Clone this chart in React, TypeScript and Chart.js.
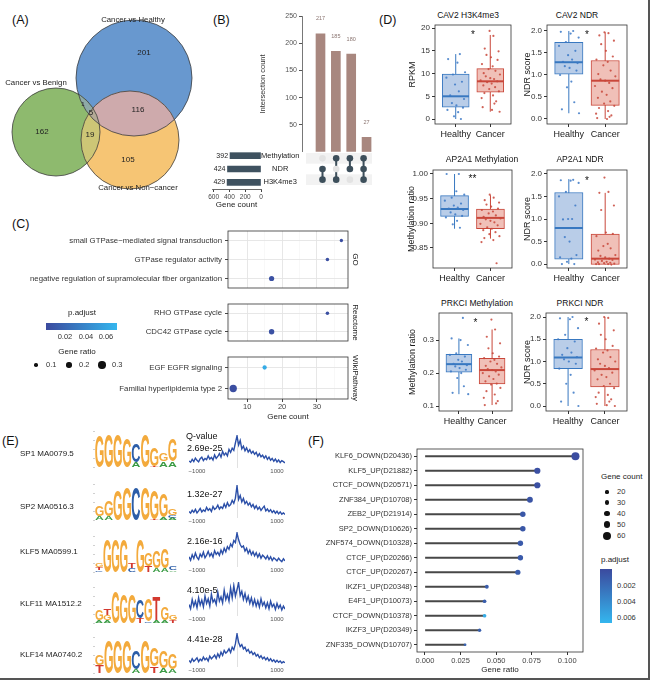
import React, { useEffect, useRef } from 'react';
import { Chart, registerables } from 'chart.js';
Chart.register(...registerables);

const FONT = "'Liberation Sans', Arial, Helvetica, sans-serif";
Chart.defaults.font.family = FONT;
Chart.defaults.color = '#333';
Chart.defaults.plugins.legend.display = false;
Chart.defaults.plugins.tooltip.enabled = false;

// ---------------- (A) Venn ----------------
const VENN_SETS = ['Cancer vs Healthy', 'Cancer vs Benign', 'Cancer vs Non\u2212cancer'];
const VENN_CX = [67, 28, 65];
const VENN_CY = [61, 34, 30];
const VENN_R = [29, 22, 24.5];
const VENN_LABEL_X = [66.5, 18, 69];
const VENN_LABEL_Y = [90, 58.5, 6];
const VENN_COUNTS = [201, 162, 105, 1, 116, 19, 5];
const VENN_COUNT_X = [72, 21, 64, 41.5, 69, 45, 45.5];
const VENN_COUNT_Y = [73.5, 34, 20, 48, 45, 32.5, 43.5];
const VENN_FILL = ['#6898cf', '#8eba6e', '#f6c574'];
const VENN_PAIRS: [number, number, string][] = [[0, 1, '#8eaaa6'], [0, 2, '#ceaaac'], [1, 2, '#cdc676']];
const VENN_TRIPLE = '#b4aa96';

// ---------------- (B) UpSet ----------------
const UPSET_SETS = ['Methylation', 'NDR', 'H3K4me3'];
const UPSET_SET_SIZES = [392, 424, 429];
const UPSET_COUNTS = [217, 185, 180, 27];
const UPSET_MEMBERS = [[0, 1, 1], [1, 0, 1], [1, 1, 0], [1, 1, 1]];
const UPSET_SIZE_TICKS = [0, 200, 400, 600];

// ---------------- (C) enrichment dot plot ----------------
const C_GO_TERMS = ['small GTPase\u2212mediated signal transduction', 'GTPase regulator activity', 'negative regulation of supramolecular fiber organization'];
const C_GO_COUNT = [37, 33, 17];
const C_GO_RATIO = [0.09, 0.1, 0.19];
const C_GO_PADJ = [0.004, 0.005, 0.006];
const C_RE_TERMS = ['RHO GTPase cycle', 'CDC42 GTPase cycle'];
const C_RE_COUNT = [33, 17];
const C_RE_RATIO = [0.1, 0.2];
const C_RE_PADJ = [0.005, 0.006];
const C_WP_TERMS = ['EGF EGFR signaling', 'Familial hyperlipidemia type 2'];
const C_WP_COUNT = [15, 6];
const C_WP_RATIO = [0.14, 0.3];
const C_WP_PADJ = [0.062, 0.004];
const C_FACETS = ['GO', 'Reactome', 'WikiPathway'];

// ---------------- (D) box plots ----------------
const BOX_TITLES = ['CAV2 H3K4me3', 'CAV2 NDR', 'AP2A1 Methylation', 'AP2A1 NDR', 'PRKCI Methylation', 'PRKCI NDR'];
const BOX_YLABELS = ['RPKM', 'NDR score', 'Methylation ratio', 'NDR score', 'Methylation ratio', 'NDR score'];
const BOX_GROUPS = ['Healthy', 'Cancer'];
// [lower whisker, q1, median, q3, upper whisker]
const BOX_HEALTHY_STATS = [[0, 2.6, 5.0, 9.9, 14.3], [0.13, 1.02, 1.29, 1.74, 2.0], [0.889, 0.914, 0.929, 0.956, 1.0], [0, 0.109, 0.8, 1.587, 1.885], [0.136, 0.203, 0.227, 0.257, 0.305], [0, 0.84, 1.09, 1.5, 2.0]];
const BOX_CANCER_STATS = [[1.6, 5.9, 8.3, 11.1, 18.5], [0, 0.31, 0.87, 1.33, 1.97], [0.869, 0.889, 0.911, 0.929, 0.957], [-0.01, -0.01, 0.12, 0.667, 1.58], [0.103, 0.167, 0.209, 0.245, 0.332], [0, 0.43, 0.83, 1.27, 2.0]];
const CAV2_H3_HEALTHY = [14.3, 13.2, 12.4, 10.3, 9.8, 9.1, 8.2, 7.6, 6.1, 5.2, 4.4, 3.5, 3.0, 2.5, 2.0, 1.5, 0.6, 0.0];
const CAV2_H3_CANCER = [19.4, 18.3, 15.5, 14.9, 14.1, 13.6, 13.0, 12.1, 11.6, 11.0, 10.6, 10.1, 9.8, 9.4, 9.0, 8.8, 8.5, 8.3, 8.1, 7.8, 7.4, 7.0, 6.6, 6.1, 5.7, 5.2, 4.6, 3.9, 3.4, 2.6, 2.0, 1.6];
const CAV2_NDR_HEALTHY = [2.0, 1.98, 1.94, 1.85, 1.75, 1.66, 1.55, 1.45, 1.35, 1.3, 1.27, 1.2, 1.16, 1.1, 1.0, 0.85, 0.72, 0.38, 0.22, 0.13];
const CAV2_NDR_CANCER = [1.97, 1.95, 1.9, 1.78, 1.7, 1.55, 1.42, 1.35, 1.3, 1.22, 1.1, 1.02, 0.97, 0.9, 0.87, 0.82, 0.75, 0.7, 0.62, 0.55, 0.48, 0.4, 0.35, 0.3, 0.25, 0.18, 0.12, 0.08, 0.05, 0.02, 0.0];
const AP2A1_ME_HEALTHY = [1.0, 1.0, 0.965, 0.958, 0.952, 0.946, 0.94, 0.936, 0.932, 0.93, 0.927, 0.922, 0.918, 0.915, 0.912, 0.905, 0.898, 0.891];
const AP2A1_ME_CANCER = [0.958, 0.952, 0.947, 0.942, 0.938, 0.934, 0.93, 0.927, 0.924, 0.92, 0.916, 0.913, 0.91, 0.908, 0.905, 0.902, 0.899, 0.896, 0.892, 0.889, 0.886, 0.882, 0.878, 0.874, 0.87, 0.866, 0.862, 0.819];
const AP2A1_NDR_HEALTHY = [1.87, 1.86, 1.85, 1.8, 1.6, 1.5, 1.3, 1.0, 1.0, 0.99, 0.8, 0.6, 0.5, 0.2, 0.15, 0.12, 0.05, 0.0, 0.0];
const AP2A1_NDR_CANCER = [1.92, 1.6, 1.58, 1.3, 1.2, 0.7, 0.67, 0.62, 0.45, 0.4, 0.35, 0.3, 0.2, 0.18, 0.15, 0.12, 0.1, 0.09, 0.07, 0.05, 0.04, 0.03, 0.02, 0.01, 0.0, 0.0, 0.0, -0.01];
const PRKCI_ME_HEALTHY = [0.367, 0.305, 0.3, 0.285, 0.26, 0.255, 0.25, 0.24, 0.235, 0.228, 0.224, 0.22, 0.215, 0.21, 0.205, 0.2, 0.185, 0.16, 0.14, 0.136];
const PRKCI_ME_CANCER = [0.362, 0.332, 0.31, 0.29, 0.275, 0.26, 0.25, 0.245, 0.24, 0.235, 0.228, 0.222, 0.217, 0.212, 0.209, 0.205, 0.2, 0.195, 0.19, 0.182, 0.175, 0.168, 0.165, 0.155, 0.145, 0.135, 0.125, 0.115, 0.108, 0.103];
const PRKCI_NDR_HEALTHY = [2.0, 1.97, 1.95, 1.75, 1.6, 1.5, 1.45, 1.3, 1.2, 1.15, 1.1, 1.05, 1.0, 0.95, 0.84, 0.7, 0.5, 0.3, 0.1, 0.0];
const PRKCI_NDR_CANCER = [2.0, 1.98, 1.85, 1.7, 1.6, 1.5, 1.35, 1.29, 1.25, 1.2, 1.1, 1.05, 1.0, 0.95, 0.9, 0.85, 0.8, 0.75, 0.7, 0.65, 0.6, 0.5, 0.45, 0.4, 0.3, 0.25, 0.2, 0.15, 0.1, 0.05, 0.02, 0.0];
const BOX_HEALTHY_POINTS = [CAV2_H3_HEALTHY, CAV2_NDR_HEALTHY, AP2A1_ME_HEALTHY, AP2A1_NDR_HEALTHY, PRKCI_ME_HEALTHY, PRKCI_NDR_HEALTHY];
const BOX_CANCER_POINTS = [CAV2_H3_CANCER, CAV2_NDR_CANCER, AP2A1_ME_CANCER, AP2A1_NDR_CANCER, PRKCI_ME_CANCER, PRKCI_NDR_CANCER];
const JITTER = [0.12, -0.22, 0.05, 0.27, -0.08, -0.27, 0.18, -0.02, 0.09, -0.16, 0.24, -0.11, 0.02, 0.21, -0.24, 0.07, -0.05, 0.15, -0.19, 0.28, -0.13, 0.0, 0.11, -0.28, 0.2, -0.09, 0.04, -0.2, 0.14, -0.03, 0.25, -0.17, 0.08, -0.25, 0.17];
const BOX_SIG = ['*', '*', '**', '*', '*', '*'];
const BOX_SIG_Y = [19.0, 1.96, 0.995, 1.9, 0.36, 1.95];
const BOX_YMIN = [-1.1, -0.114, 0.8094, -0.087, 0.085, -0.112];
const BOX_YMAX = [20.7, 2.136, 1.0081, 2.087, 0.382, 2.09];
const BOX_YSTEP = [5, 0.5, 0.05, 0.5, 0.1, 0.5];
const BOX_YDEC = [0, 1, 2, 1, 1, 1];

// ---------------- (E) motifs ----------------
const MOTIF_NAMES = ['SP1 MA0079.5', 'SP2 MA0516.3', 'KLF5 MA0599.1', 'KLF11 MA1512.2', 'KLF14 MA0740.2'];
const MOTIF_QVALUES = ['2.69e-25', '1.32e-27', '2.16e-16', '4.10e-5', '4.41e-28'];
const LOGO_SP1 = [{ G: 1.75 }, { G: 1.85 }, { G: 1.85 }, { G: 1.6 }, { C: 1.05, A: 0.25 }, { G: 1.85 }, { G: 1.0, T: 0.06 }, { G: 0.45, A: 0.3 }, { G: 1.2, A: 0.3 }];
const LOGO_SP2 = [{ G: 0.6, A: 0.2 }, { G: 0.85, A: 0.2 }, { G: 1.65 }, { G: 1.85 }, { C: 1.85 }, { G: 1.8 }, { G: 1.6, T: 0.05 }, { G: 1.3, A: 0.15 }, { G: 0.35, C: 0.15, A: 0.12 }];
const LOGO_KLF5 = [{ G: 0.2, T: 0.15, C: 0.1 }, { G: 1.85 }, { G: 1.85 }, { G: 1.85 }, { C: 0.2, T: 0.25 }, { G: 1.85 }, { G: 0.75, T: 0.35 }, { G: 0.95, A: 0.2 }, { G: 1.1, A: 0.2 }, { C: 0.2, A: 0.1 }];
const LOGO_KLF11 = [{ G: 0.6, A: 0.15 }, { T: 0.35, G: 0.3, A: 0.15 }, { G: 1.75 }, { G: 1.6 }, { G: 1.6 }, { C: 1.05, T: 0.25 }, { G: 1.2, C: 0.1 }, { T: 1.3, A: 0.15 }, { G: 0.75, A: 0.15 }, { G: 0.25, T: 0.15 }];
const LOGO_KLF14 = [{ G: 0.55, T: 0.45 }, { G: 1.8 }, { G: 1.85 }, { G: 1.85 }, { C: 1.0, A: 0.2 }, { G: 1.85 }, { G: 1.05, T: 0.35 }, { G: 0.95, A: 0.25 }, { G: 0.85, A: 0.2 }];
const LOGOS = [LOGO_SP1, LOGO_SP2, LOGO_KLF5, LOGO_KLF11, LOGO_KLF14];
const LETTER_COLORS: any = { A: '#3a9b44', C: '#2d5ea8', G: '#f3aa3c', T: '#d3392f' };
const PROFILE_X = [-1200, -1160, -1120, -1080, -1040, -1000, -960, -920, -880, -840, -800, -760, -720, -680, -640, -600, -560, -520, -480, -440, -400, -360, -320, -280, -240, -200, -160, -120, -80, -40, 0, 40, 80, 120, 160, 200, 240, 280, 320, 360, 400, 440, 480, 520, 560, 600, 640, 680, 720, 760, 800, 840, 880, 920, 960, 1000, 1040, 1080, 1120, 1160, 1200];
const PROFILE_SP1 = [0.22, 0.18, 0.27, 0.2, 0.31, 0.24, 0.19, 0.29, 0.34, 0.23, 0.3, 0.26, 0.38, 0.28, 0.33, 0.25, 0.41, 0.3, 0.36, 0.45, 0.34, 0.52, 0.4, 0.47, 0.38, 0.58, 0.49, 0.62, 0.55, 0.78, 1.0, 0.72, 0.86, 0.6, 0.68, 0.54, 0.63, 0.5, 0.57, 0.46, 0.52, 0.43, 0.49, 0.37, 0.45, 0.35, 0.4, 0.31, 0.38, 0.27, 0.34, 0.24, 0.3, 0.21, 0.28, 0.19, 0.25, 0.17, 0.23, 0.2, 0.16];
const PROFILE_SP2 = [0.2, 0.15, 0.24, 0.18, 0.27, 0.16, 0.22, 0.3, 0.19, 0.25, 0.21, 0.33, 0.24, 0.29, 0.2, 0.36, 0.27, 0.31, 0.4, 0.28, 0.35, 0.3, 0.44, 0.33, 0.48, 0.37, 0.42, 0.55, 0.46, 0.62, 1.0, 0.58, 0.7, 0.5, 0.61, 0.45, 0.52, 0.4, 0.47, 0.35, 0.42, 0.3, 0.38, 0.27, 0.34, 0.24, 0.31, 0.37, 0.22, 0.28, 0.2, 0.26, 0.17, 0.23, 0.15, 0.21, 0.13, 0.19, 0.12, 0.16, 0.11];
const PROFILE_KLF5 = [0.3, 0.2, 0.36, 0.25, 0.41, 0.28, 0.22, 0.38, 0.3, 0.44, 0.27, 0.35, 0.46, 0.32, 0.4, 0.29, 0.48, 0.37, 0.43, 0.34, 0.5, 0.39, 0.55, 0.45, 0.6, 0.52, 0.68, 0.6, 0.78, 0.72, 1.0, 0.8, 0.66, 0.58, 0.62, 0.47, 0.55, 0.4, 0.5, 0.36, 0.45, 0.33, 0.42, 0.29, 0.39, 0.26, 0.35, 0.3, 0.24, 0.33, 0.22, 0.3, 0.19, 0.27, 0.23, 0.18, 0.26, 0.2, 0.16, 0.24, 0.18];
const PROFILE_KLF11 = [0.35, 0.22, 0.5, 0.3, 0.45, 0.25, 0.55, 0.33, 0.48, 0.28, 0.6, 0.38, 0.52, 0.3, 0.66, 0.42, 0.5, 0.35, 0.72, 0.45, 0.58, 0.4, 0.78, 0.5, 0.65, 0.45, 0.85, 0.55, 0.92, 0.6, 0.8, 1.0, 0.62, 0.75, 0.5, 0.68, 0.45, 0.6, 0.38, 0.55, 0.33, 0.5, 0.3, 0.46, 0.27, 0.52, 0.32, 0.42, 0.25, 0.4, 0.22, 0.45, 0.28, 0.36, 0.2, 0.38, 0.24, 0.33, 0.18, 0.3, 0.21];
const PROFILE_KLF14 = [0.2, 0.14, 0.25, 0.17, 0.22, 0.28, 0.16, 0.24, 0.19, 0.3, 0.22, 0.27, 0.18, 0.33, 0.25, 0.3, 0.36, 0.26, 0.4, 0.3, 0.45, 0.35, 0.5, 0.42, 0.47, 0.55, 0.44, 0.6, 0.52, 0.7, 1.0, 0.75, 0.62, 0.68, 0.55, 0.6, 0.48, 0.53, 0.42, 0.47, 0.38, 0.43, 0.33, 0.38, 0.28, 0.34, 0.25, 0.3, 0.22, 0.28, 0.19, 0.25, 0.17, 0.22, 0.15, 0.2, 0.14, 0.18, 0.12, 0.16, 0.13];
const PROFILES = [PROFILE_SP1, PROFILE_SP2, PROFILE_KLF5, PROFILE_KLF11, PROFILE_KLF14];

// ---------------- (F) lollipop ----------------
const F_TERMS = ['KLF6_DOWN(D20436)', 'KLF5_UP(D21882)', 'CTCF_DOWN(D20571)', 'ZNF384_UP(D10708)', 'ZEB2_UP(D21914)', 'SP2_DOWN(D10626)', 'ZNF574_DOWN(D10328)', 'CTCF_UP(D20266)', 'CTCF_UP(D20267)', 'IKZF1_UP(D20348)', 'E4F1_UP(D10073)', 'CTCF_DOWN(D10378)', 'IKZF3_UP(D20349)', 'ZNF335_DOWN(D10707)'];
const F_RATIO = [0.1058, 0.079, 0.079, 0.0738, 0.0688, 0.0688, 0.0671, 0.0671, 0.0653, 0.0435, 0.0419, 0.0419, 0.0384, 0.0282];
const F_COUNT = [60, 45, 45, 42, 39, 39, 38, 38, 37, 25, 24, 24, 22, 16];
const F_PADJ = [0.0002, 0.0004, 0.0004, 0.0006, 0.0008, 0.0008, 0.001, 0.001, 0.0012, 0.0012, 0.0013, 0.0062, 0.0014, 0.0016];
const F_LEGEND_COUNTS = [20, 30, 40, 50, 60];

// ---------------- helpers ----------------
const C_LOW = [59, 74, 158];
const C_HIGH = [52, 182, 238];
function grad(p: number, min: number, max: number) {
  const t = Math.max(0, Math.min(1, (p - min) / (max - min)));
  const c = C_LOW.map((v, i) => Math.round(v + (C_HIGH[i] - v) * t));
  return `rgb(${c[0]},${c[1]},${c[2]})`;
}
const fixW = (w: number) => (s: any) => { s.width = w; s.paddingTop = 0; s.paddingBottom = 0; s.paddingLeft = 0; s.paddingRight = 0; };
const fixH = (h: number) => (s: any) => { s.height = h; s.paddingLeft = 0; s.paddingRight = 0; s.paddingTop = 0; s.paddingBottom = 0; };

const framePlugin = {
  id: 'frame',
  afterDatasetsDraw(chart: any, _a: any, opts: any) {
    if (!opts || !opts.color) return;
    const { ctx, chartArea: a } = chart;
    ctx.save();
    ctx.strokeStyle = opts.color;
    ctx.lineWidth = opts.width || 1;
    ctx.strokeRect(a.left, a.top, a.right - a.left, a.bottom - a.top);
    ctx.restore();
  },
};
Chart.register(framePlugin);

type BoxSpec = { l: number; t: number; r: number; b: number; pl: number; pt: number; pr: number; pb: number };

function ChartBox({ box, build }: { box: BoxSpec; build: (b: BoxSpec) => any }) {
  const ref = useRef<HTMLCanvasElement | null>(null);
  const left = box.l - box.pl;
  const top = box.t - box.pt;
  const w = box.r + box.pr - left;
  const h = box.b + box.pb - top;
  useEffect(() => {
    const cfg = build(box);
    cfg.options = { ...(cfg.options || {}), responsive: false, maintainAspectRatio: false, animation: false, events: [] };
    const c = new Chart(ref.current as HTMLCanvasElement, cfg);
    return () => c.destroy();
  }, []);
  return <canvas ref={ref} width={w} height={h} style={{ position: 'absolute', left, top, width: w, height: h }} />;
}

function Txt({ x, y, s, size = 9, align = 'center', color = '#222' }: any) {
  const tx = align === 'center' ? '-50%' : align === 'right' ? '-100%' : '0';
  return (
    <div style={{ position: 'absolute', left: x, top: y, transform: `translate(${tx},-50%)`, fontSize: size, color, whiteSpace: 'nowrap', lineHeight: 1 }}>{s}</div>
  );
}

// ---------------- (A) ----------------
const vennPlugin = {
  id: 'vennRegions',
  beforeDatasetsDraw(chart: any) {
    const { ctx, scales: { x, y } } = chart;
    const circ = VENN_CX.map((cx, i) => ({ px: x.getPixelForValue(cx), py: y.getPixelForValue(VENN_CY[i]), pr: x.getPixelForValue(VENN_R[i]) - x.getPixelForValue(0) }));
    const path = (c: any) => { ctx.beginPath(); ctx.arc(c.px, c.py, c.pr, 0, Math.PI * 2); };
    ctx.save();
    circ.forEach((c, i) => { path(c); ctx.fillStyle = VENN_FILL[i]; ctx.fill(); });
    VENN_PAIRS.forEach(([a, b, col]) => { ctx.save(); path(circ[a]); ctx.clip(); path(circ[b]); ctx.fillStyle = col; ctx.fill(); ctx.restore(); });
    ctx.save(); path(circ[0]); ctx.clip(); path(circ[1]); ctx.clip(); path(circ[2]); ctx.fillStyle = VENN_TRIPLE; ctx.fill(); ctx.restore();
    ctx.restore();
  },
  afterDatasetsDraw(chart: any) {
    const { ctx, scales: { x, y } } = chart;
    ctx.save();
    ctx.textAlign = 'center'; ctx.textBaseline = 'middle'; ctx.fillStyle = '#222';
    ctx.font = `7.8px ${FONT}`;
    VENN_SETS.forEach((s, i) => ctx.fillText(s, x.getPixelForValue(VENN_LABEL_X[i]), y.getPixelForValue(VENN_LABEL_Y[i])));
    VENN_COUNTS.forEach((n, i) => {
      ctx.font = `${n < 2 ? 6 : 8}px ${FONT}`;
      ctx.fillText(String(n), x.getPixelForValue(VENN_COUNT_X[i]), y.getPixelForValue(VENN_COUNT_Y[i]));
    });
    ctx.restore();
  },
};
const vennConfig = (_b: BoxSpec) => ({
  type: 'scatter',
  data: { datasets: [{ data: VENN_CX.map((x, i) => ({ x, y: VENN_CY[i] })), pointRadius: (c: any) => { const s = c.chart.scales.x; return s.getPixelForValue(VENN_R[c.dataIndex]) - s.getPixelForValue(0); }, pointBackgroundColor: 'rgba(0,0,0,0)', pointBorderColor: '#3c3c3c', pointBorderWidth: 0.8 }] },
  options: { scales: { x: { type: 'linear', display: false, min: 0, max: 107.5 }, y: { type: 'linear', display: false, min: 0, max: 100 } } },
  plugins: [vennPlugin],
});

// ---------------- (B) ----------------
const UPSET_XMIN = -0.205, UPSET_XMAX = 4.615;
const upsetBarsConfig = (b: BoxSpec) => ({
  type: 'bar',
  data: { datasets: [{ data: UPSET_COUNTS.map((v, i) => ({ x: i + 1, y: v })), backgroundColor: '#a8877f', barThickness: 9 }] },
  options: {
    layout: { padding: { left: 0, right: b.pr, top: b.pt, bottom: 0 } },
    scales: {
      x: { type: 'linear', display: false, min: UPSET_XMIN, max: UPSET_XMAX, offset: false },
      y: { type: 'linear', min: 0, max: 250, ticks: { stepSize: 50, font: { size: 7 }, color: '#555', padding: 2, callback: (v: number) => (v === 0 ? '' : String(v)) }, grid: { drawOnChartArea: false, tickLength: 3, tickColor: '#555' }, border: { display: true, color: '#555', width: 0.8 }, title: { display: true, text: 'Intersection count', font: { size: 7.5 }, color: '#333', padding: { top: 2, bottom: 2 } }, afterFit: fixW(b.pl) },
    },
  },
  plugins: [{
    id: 'barLabels',
    afterDatasetsDraw(chart: any) {
      const { ctx, scales: { x, y } } = chart;
      ctx.save(); ctx.font = `5.5px ${FONT}`; ctx.fillStyle = '#8a7470'; ctx.textAlign = 'center'; ctx.textBaseline = 'middle';
      UPSET_COUNTS.forEach((v, i) => ctx.fillText(String(v), x.getPixelForValue(i + 1), y.getPixelForValue(v) - 15));
      ctx.restore();
    },
  }],
});
const upsetMatrixConfig = (_b: BoxSpec) => {
  const lines = UPSET_MEMBERS.map((m, c) => ({ type: 'line', data: UPSET_SETS.filter((_s, r) => m[r]).map((s) => ({ x: c + 1, y: s })), borderColor: '#3d4f5b', borderWidth: 2, pointRadius: 0, order: 2 }));
  const cells: any[] = [];
  const cols: string[] = [];
  UPSET_MEMBERS.forEach((m, c) => UPSET_SETS.forEach((s, r) => { cells.push({ x: c + 1, y: s }); cols.push(m[r] ? '#3d4f5b' : '#e3e3e3'); }));
  return {
    type: 'scatter',
    data: { datasets: [...lines, { type: 'scatter', data: cells, pointRadius: 3.3, pointBackgroundColor: cols, pointBorderWidth: 0, order: 1 }] },
    options: { scales: { x: { type: 'linear', display: false, min: UPSET_XMIN, max: UPSET_XMAX }, y: { type: 'category', labels: UPSET_SETS, offset: true, display: false } } },
    plugins: [{
      id: 'stripes',
      beforeDatasetsDraw(chart: any) {
        const { ctx, chartArea: a, scales: { y } } = chart;
        const band = (a.bottom - a.top) / UPSET_SETS.length;
        ctx.save(); ctx.fillStyle = '#f2f2f2';
        UPSET_SETS.forEach((s, r) => { if (r % 2 === 0) { const py = y.getPixelForValue(r); ctx.fillRect(a.left, py - band / 2, a.right - a.left, band); } });
        ctx.restore();
      },
    }],
  };
};
const upsetSizesConfig = (b: BoxSpec) => ({
  type: 'bar',
  data: { labels: UPSET_SETS, datasets: [{ data: UPSET_SET_SIZES, backgroundColor: '#3f5260', barThickness: 6 }] },
  options: {
    indexAxis: 'y',
    layout: { padding: { left: b.pl, right: 0, top: b.pt, bottom: 0 } },
    scales: {
      x: { type: 'linear', min: 0, max: 620, reverse: true, offset: false, afterBuildTicks: (s: any) => { s.ticks = UPSET_SIZE_TICKS.map((v) => ({ value: v })); }, ticks: { font: { size: 6.5 }, color: '#444', padding: 1, autoSkip: false, maxRotation: 0, minRotation: 0, callback: (v: number) => String(v) }, grid: { drawOnChartArea: false, tickLength: 3, tickColor: '#444', offset: false }, border: { display: true, color: '#444', width: 0.8 }, title: { display: true, text: 'Gene count', font: { size: 8 }, color: '#222', padding: { top: 1, bottom: 2 } }, afterFit: fixH(b.pb) },
      y: { type: 'category', position: 'right', offset: true, ticks: { font: { size: 7.5 }, color: '#222', crossAlign: 'center', padding: 0, autoSkip: false }, grid: { display: false, drawTicks: false, tickLength: 0 }, border: { display: false }, afterFit: fixW(b.pr) },
    },
  },
  plugins: [{
    id: 'sizeLabels',
    afterDatasetsDraw(chart: any) {
      const { ctx, scales: { x, y } } = chart;
      ctx.save(); ctx.font = `7px ${FONT}`; ctx.fillStyle = '#222'; ctx.textAlign = 'right'; ctx.textBaseline = 'middle';
      UPSET_SET_SIZES.forEach((v, i) => ctx.fillText(String(v), x.getPixelForValue(v) - 2, y.getPixelForValue(i)));
      ctx.restore();
    },
  }],
});

// ---------------- (C) ----------------
const C_PMIN = 0.0015, C_PMAX = 0.069;
const dotFacetConfig = (terms: string[], counts: number[], ratios: number[], padj: number[], facet: string, showX: boolean) => (b: BoxSpec) => ({
  type: 'scatter',
  data: { datasets: [{ xAxisID: 'x', yAxisID: 'y', data: terms.map((t, i) => ({ x: counts[i], y: t })), pointRadius: ratios.map((r) => 0.8 + 9.5 * r), pointBackgroundColor: padj.map((p) => grad(p, C_PMIN, C_PMAX)), pointBorderWidth: 0 }] },
  options: {
    layout: { padding: { left: 0, right: 0, top: b.pt, bottom: 0 } },
    scales: {
      x: {
        type: 'linear', min: 4.5, max: 38.9, offset: false,
        ticks: { display: showX, stepSize: 5, includeBounds: false, font: { size: 7.5 }, color: '#444', padding: 0, autoSkip: false, maxRotation: 0, callback: (v: number) => (v % 10 === 0 ? String(v) : '') },
        grid: { color: (c: any) => (c.tick && c.tick.value % 10 === 0 ? '#e4e4e4' : '#f1f1f1'), lineWidth: (c: any) => (c.tick && c.tick.value % 10 === 0 ? 0.9 : 0.5), drawTicks: showX, tickLength: 3, tickColor: (c: any) => (c.tick && c.tick.value % 10 === 0 ? '#333' : 'rgba(0,0,0,0)'), offset: false },
        border: { display: false },
        title: { display: showX, text: 'Gene count', font: { size: 8 }, color: '#222', padding: { top: 1, bottom: 2 } },
        afterFit: fixH(b.pb),
      },
      y: { type: 'category', labels: terms, offset: true, ticks: { font: { size: 7.8 }, color: '#333', padding: 3, autoSkip: false }, grid: { color: '#e4e4e4', lineWidth: 0.9, tickLength: 3, tickColor: '#333', offset: false }, border: { display: false }, afterFit: fixW(b.pl) },
      strip: { type: 'linear', axis: 'y', position: 'right', display: true, ticks: { display: false }, grid: { display: false }, border: { display: false }, title: { display: true, text: facet, font: { size: 8 }, color: '#222', padding: { top: 2, bottom: 2 } }, afterFit: fixW(b.pr) },
    },
    plugins: { frame: { color: '#333', width: 0.8 } },
  },
});

// ---------------- (D) ----------------
const BOX_FILL = ['#b9cde8', '#f0c0b8'];
const BOX_STROKE = ['#3878c0', '#c9473a'];
const BOX_POINT = ['rgba(59,120,198,0.85)', 'rgba(200,70,58,0.85)'];
const boxConfig = (i: number) => (b: BoxSpec) => {
  const ppu = (b.r - b.l) / 2.2;
  const bw = 0.77 * ppu;
  const stats = [BOX_HEALTHY_STATS[i], BOX_CANCER_STATS[i]];
  const pts = [BOX_HEALTHY_POINTS[i], BOX_CANCER_POINTS[i]];
  const datasets: any[] = [];
  stats.forEach((s, g) => datasets.push({ type: 'line', data: [{ x: g + 1, y: s[0] }, { x: g + 1, y: s[4] }], borderColor: BOX_STROKE[g], borderWidth: 1, pointRadius: 0, order: 4 }));
  datasets.push({ type: 'bar', data: stats.map((s, g) => ({ x: g + 1, y: [s[1], s[3]] })), backgroundColor: BOX_FILL, borderColor: BOX_STROKE, borderWidth: 1, borderSkipped: false, barThickness: bw, order: 3 });
  stats.forEach((s, g) => datasets.push({ type: 'line', data: [{ x: g + 1 - 0.385, y: s[2] }, { x: g + 1 + 0.385, y: s[2] }], borderColor: BOX_STROKE[g], borderWidth: 2, pointRadius: 0, order: 2 }));
  pts.forEach((arr, g) => datasets.push({ type: 'scatter', data: arr.map((v, k) => ({ x: g + 1 + JITTER[(k + g * 7) % JITTER.length], y: v })), pointRadius: 1.1, pointBackgroundColor: BOX_POINT[g], pointBorderWidth: 0, order: 1 }));
  return {
    type: 'bar',
    data: { datasets },
    options: {
      layout: { padding: { left: 0, right: b.pr, top: b.pt, bottom: 0 } },
      scales: {
        x: { type: 'linear', min: 0.4, max: 2.6, offset: false, afterBuildTicks: (s: any) => { s.ticks = [{ value: 1 }, { value: 2 }]; }, ticks: { font: { size: 9 }, color: '#1a1a1a', padding: 2, autoSkip: false, maxRotation: 0, callback: (v: number) => BOX_GROUPS[Math.round(v) - 1] }, grid: { drawOnChartArea: false, tickLength: 3, tickColor: '#333', offset: false }, border: { display: false }, afterFit: fixH(b.pb) },
        y: { type: 'linear', min: BOX_YMIN[i], max: BOX_YMAX[i], ticks: { stepSize: BOX_YSTEP[i], includeBounds: false, font: { size: 8 }, color: '#333', padding: 2, callback: (v: number) => Number(v).toFixed(BOX_YDEC[i]) }, grid: { drawOnChartArea: false, tickLength: 3, tickColor: '#333' }, border: { display: false }, title: { display: true, text: BOX_YLABELS[i], font: { size: 9 }, color: '#1a1a1a', padding: { top: 2, bottom: 2 } }, afterFit: fixW(b.pl) },
      },
      plugins: { frame: { color: '#333', width: 0.8 } },
    },
    plugins: [{
      id: 'sig',
      afterDatasetsDraw(chart: any) {
        const { ctx, scales: { x, y } } = chart;
        ctx.save(); ctx.font = `10px ${FONT}`; ctx.fillStyle = '#111'; ctx.textAlign = 'center'; ctx.textBaseline = 'alphabetic';
        ctx.fillText(BOX_SIG[i], x.getPixelForValue(1.5), y.getPixelForValue(BOX_SIG_Y[i]) + 5.5);
        ctx.restore();
      },
    }],
  };
};

// ---------------- (E) ----------------
function makeLogoPlugin(positions: any[]) {
  return {
    id: 'logo',
    afterDatasetsDraw(chart: any) {
      const { ctx, scales: { x, y } } = chart;
      ctx.save();
      ctx.font = `bold 100px ${FONT}`;
      ctx.textAlign = 'left'; ctx.textBaseline = 'alphabetic';
      positions.forEach((col: any, i: number) => {
        const letters = Object.keys(col).sort((a, b) => col[a] - col[b]);
        let base = 0;
        letters.forEach((L) => {
          const h = col[L];
          const x0 = x.getPixelForValue(i + 1 - 0.46), x1 = x.getPixelForValue(i + 1 + 0.46);
          const yb = y.getPixelForValue(base), yt = y.getPixelForValue(base + h);
          const m = ctx.measureText(L);
          const gw = m.actualBoundingBoxLeft + m.actualBoundingBoxRight;
          const gh = m.actualBoundingBoxAscent + m.actualBoundingBoxDescent;
          ctx.save();
          ctx.translate(x0, yt);
          ctx.scale((x1 - x0) / gw, (yb - yt) / gh);
          ctx.fillStyle = LETTER_COLORS[L];
          ctx.fillText(L, m.actualBoundingBoxLeft, m.actualBoundingBoxAscent);
          ctx.restore();
          base += h;
        });
      });
      ctx.restore();
    },
  };
}
const logoConfig = (i: number) => (b: BoxSpec) => ({
  type: 'scatter',
  data: { datasets: [] },
  options: {
    layout: { padding: { left: 0, right: b.pr, top: b.pt, bottom: b.pb } },
    scales: {
      x: { type: 'linear', display: false, min: 0.5, max: LOGOS[i].length + 0.5 },
      y: { type: 'linear', min: 0, max: 2, ticks: { display: false, stepSize: 0.5 }, grid: { drawOnChartArea: false, tickLength: 2, tickColor: '#c4c4c4', lineWidth: 0.8 }, border: { display: false }, afterFit: fixW(b.pl) },
    },
  },
  plugins: [makeLogoPlugin(LOGOS[i])],
});
const profileConfig = (i: number) => (b: BoxSpec) => ({
  type: 'line',
  data: { datasets: [{ data: PROFILE_X.map((x, k) => ({ x, y: PROFILES[i][k] })), borderColor: '#2b4fa8', borderWidth: 1.4, pointRadius: 0, tension: 0 }] },
  options: {
    layout: { padding: { left: b.pl, right: b.pr, top: b.pt, bottom: 0 } },
    scales: {
      x: { type: 'linear', min: -1200, max: 1200, offset: false, afterBuildTicks: (s: any) => { s.ticks = [{ value: -1000 }, { value: 0 }, { value: 1000 }]; }, ticks: { font: { size: 6 }, color: '#555', padding: 0, autoSkip: false, maxRotation: 0, callback: (v: number) => (v === 0 ? '' : v < 0 ? '\u2212' + Math.abs(v) : String(v)) }, grid: { drawTicks: false, color: (c: any) => (c.tick && c.tick.value === 0 ? '#d9d9d9' : 'rgba(0,0,0,0)'), lineWidth: 0.8 }, border: { display: false }, afterFit: fixH(b.pb) },
      y: { type: 'linear', display: false, min: 0, max: 1.03 },
    },
  },
});

// ---------------- (F) ----------------
const F_PMIN = 0, F_PMAX = 0.0068;
const lollipopConfig = (b: BoxSpec) => ({
  type: 'bar',
  data: {
    labels: F_TERMS,
    datasets: [
      { type: 'bar', data: F_RATIO, backgroundColor: '#474747', barThickness: 1.3, order: 2 },
      { type: 'scatter', data: F_RATIO.map((v, i) => ({ x: v, y: F_TERMS[i] })), pointRadius: F_COUNT.map((c) => 0.4 + 0.06 * c), pointBackgroundColor: F_PADJ.map((p) => grad(p, F_PMIN, F_PMAX)), pointBorderWidth: 0, order: 1 },
    ],
  },
  options: {
    indexAxis: 'y',
    layout: { padding: { left: 0, right: b.pr, top: b.pt, bottom: 0 } },
    scales: {
      x: { type: 'linear', min: -0.0056, max: 0.1111, offset: false, ticks: { stepSize: 0.025, includeBounds: false, font: { size: 7.5 }, color: '#444', padding: 1, autoSkip: false, maxRotation: 0, callback: (v: number) => Number(v).toFixed(3) }, grid: { drawOnChartArea: false, tickLength: 3, tickColor: '#333', offset: false }, border: { display: false }, title: { display: true, text: 'Gene ratio', font: { size: 8 }, color: '#222', padding: { top: 1, bottom: 2 } }, afterFit: fixH(b.pb) },
      y: { type: 'category', labels: F_TERMS, offset: true, ticks: { font: { size: 7.5 }, color: '#333', padding: 2, autoSkip: false }, grid: { drawOnChartArea: false, tickLength: 3, tickColor: '#333', offset: false }, border: { display: false }, afterFit: fixW(b.pl) },
    },
    plugins: { frame: { color: '#333', width: 0.8 } },
  },
});

// ---------------- layout boxes ----------------
const BOX_A: BoxSpec = { l: 0, t: 0, r: 215, b: 200, pl: 0, pt: 0, pr: 0, pb: 0 };
const BOX_B1: BoxSpec = { l: 302, t: 16, r: 376, b: 152, pl: 46, pt: 16, pr: 4, pb: 0 };
const BOX_B2: BoxSpec = { l: 302, t: 149, r: 376, b: 189, pl: 0, pt: 0, pr: 0, pb: 0 };
const BOX_B3: BoxSpec = { l: 212, t: 149, r: 261, b: 189, pl: 11, pt: 0, pr: 41, pb: 23 };
const BOX_C = [
  { l: 228, t: 227, r: 348, b: 292, pl: 228, pt: 0, pr: 14, pb: 0 },
  { l: 228, t: 300, r: 348, b: 345, pl: 228, pt: 0, pr: 14, pb: 0 },
  { l: 228, t: 353, r: 348, b: 399, pl: 228, pt: 0, pr: 14, pb: 25 },
];
const BOX_D: BoxSpec[] = [
  { l: 435, t: 25, r: 512, b: 124, pl: 30, pt: 4, pr: 3, pb: 16 },
  { l: 547, t: 25, r: 628, b: 124, pl: 27, pt: 4, pr: 3, pb: 16 },
  { l: 433, t: 170, r: 513, b: 268, pl: 29, pt: 4, pr: 3, pb: 16 },
  { l: 547, t: 170, r: 628, b: 268, pl: 27, pt: 4, pr: 3, pb: 16 },
  { l: 439, t: 313, r: 513, b: 411, pl: 34, pt: 4, pr: 3, pb: 16 },
  { l: 546, t: 313, r: 628, b: 411, pl: 26, pt: 4, pr: 3, pb: 16 },
];
const D_TITLE_POS = [[468, 15], [577, 15], [482, 159], [580, 159], [477, 303], [580, 303]];
const LOGO_BOTTOM = [467, 520, 572, 623, 673];
const PROF_TOP = [435, 485, 532, 582, 633];
const PROF_BOTTOM = [468, 518, 567, 616, 667];
const MOTIF_LABEL_Y = [454, 507, 552, 604, 655];
const QVAL_Y = [448, 494, 541, 590, 639];

export default function App() {
  const cFacets = [
    dotFacetConfig(C_GO_TERMS, C_GO_COUNT, C_GO_RATIO, C_GO_PADJ, C_FACETS[0], false),
    dotFacetConfig(C_RE_TERMS, C_RE_COUNT, C_RE_RATIO, C_RE_PADJ, C_FACETS[1], false),
    dotFacetConfig(C_WP_TERMS, C_WP_COUNT, C_WP_RATIO, C_WP_PADJ, C_FACETS[2], true),
  ];
  return (
    <div style={{ position: 'absolute', left: 0, top: 0, width: 650, height: 680, background: '#fff', fontFamily: FONT, color: '#222', overflow: 'hidden' }}>
      {/* panel letters */}
      <Txt x={12} y={20} s="(A)" size={12.5} align="left" color="#111" />
      <Txt x={213} y={20} s="(B)" size={12.5} align="left" color="#111" />
      <Txt x={379} y={20} s="(D)" size={12.5} align="left" color="#111" />
      <Txt x={12} y={224} s="(C)" size={12.5} align="left" color="#111" />
      <Txt x={2} y={441} s="(E)" size={12.5} align="left" color="#111" />
      <Txt x={308} y={441} s="(F)" size={12.5} align="left" color="#111" />

      {/* A */}
      <ChartBox box={BOX_A} build={vennConfig} />

      {/* B */}
      <ChartBox box={BOX_B1} build={upsetBarsConfig} />
      <ChartBox box={BOX_B2} build={upsetMatrixConfig} />
      <ChartBox box={BOX_B3} build={upsetSizesConfig} />

      {/* C */}
      {BOX_C.map((b, i) => <ChartBox key={'c' + i} box={b} build={cFacets[i]} />)}
      <Txt x={82} y={313} s="p.adjust" size={8} />
      <div style={{ position: 'absolute', left: 46, top: 323, width: 71, height: 7, background: `linear-gradient(to right, rgb(${C_LOW.join(',')}), rgb(${C_HIGH.join(',')}))` }} />
      <Txt x={65} y={337} s="0.02" size={7.5} color="#333" />
      <Txt x={86} y={337} s="0.04" size={7.5} color="#333" />
      <Txt x={106} y={337} s="0.06" size={7.5} color="#333" />
      <Txt x={77} y={352} s="Gene ratio" size={8} />
      {[0.1, 0.2, 0.3].map((r, k) => {
        const rad = 0.8 + 9.5 * r;
        const cx = [36, 69, 102][k];
        return <div key={'gr' + k} style={{ position: 'absolute', left: cx - rad, top: 365 - rad, width: rad * 2, height: rad * 2, borderRadius: '50%', background: '#111' }} />;
      })}
      <Txt x={46} y={365} s="0.1" size={7.5} align="left" color="#333" />
      <Txt x={79} y={365} s="0.2" size={7.5} align="left" color="#333" />
      <Txt x={112} y={365} s="0.3" size={7.5} align="left" color="#333" />

      {/* D */}
      {BOX_D.map((b, i) => <ChartBox key={'d' + i} box={b} build={boxConfig(i)} />)}
      {BOX_TITLES.map((t, i) => <Txt key={'dt' + i} x={D_TITLE_POS[i][0]} y={D_TITLE_POS[i][1]} s={t} size={8.5} color="#111" />)}

      {/* E */}
      {MOTIF_NAMES.map((n, i) => <Txt key={'mn' + i} x={20} y={MOTIF_LABEL_Y[i]} s={n} size={8} align="left" color="#222" />)}
      {LOGOS.map((_l, i) => <ChartBox key={'lg' + i} box={{ l: 95, t: LOGO_BOTTOM[i] - 36, r: 177, b: LOGO_BOTTOM[i], pl: 6, pt: 1, pr: 1, pb: 2 }} build={logoConfig(i)} />)}
      {PROFILES.map((_p, i) => <ChartBox key={'pf' + i} box={{ l: 189, t: PROF_TOP[i], r: 285, b: PROF_BOTTOM[i], pl: 2, pt: 1, pr: 6, pb: 8 }} build={profileConfig(i)} />)}
      <Txt x={186} y={436} s="Q-value" size={9} align="left" color="#111" />
      {MOTIF_QVALUES.map((q, i) => <Txt key={'q' + i} x={187} y={QVAL_Y[i]} s={q} size={9} align="left" color="#111" />)}

      {/* F */}
      <ChartBox box={{ l: 417, t: 447, r: 585, b: 652, pl: 95, pt: 2, pr: 2, pb: 25 }} build={lollipopConfig} />
      <Txt x={601} y={477} s="Gene count" size={8} align="left" />
      {F_LEGEND_COUNTS.map((c, k) => {
        const rad = 0.4 + 0.06 * c;
        const cy = [492, 502.5, 513.5, 524.5, 535.5][k];
        return <div key={'gc' + k} style={{ position: 'absolute', left: 607 - rad, top: cy - rad, width: rad * 2, height: rad * 2, borderRadius: '50%', background: '#111' }} />;
      })}
      {F_LEGEND_COUNTS.map((c, k) => <Txt key={'gcl' + k} x={617} y={[492, 502.5, 513.5, 524.5, 535.5][k]} s={String(c)} size={7.5} align="left" color="#333" />)}
      <Txt x={601} y={560} s="p.adjust" size={8} align="left" />
      <div style={{ position: 'absolute', left: 600, top: 569, width: 12, height: 54, background: `linear-gradient(to bottom, rgb(${C_LOW.join(',')}), rgb(${C_HIGH.join(',')}))` }} />
      <Txt x={617} y={586} s="0.002" size={7.5} align="left" color="#333" />
      <Txt x={617} y={602} s="0.004" size={7.5} align="left" color="#333" />
      <Txt x={617} y={618} s="0.006" size={7.5} align="left" color="#333" />

      {/* outer frame edges */}
      <div style={{ position: 'absolute', left: 648, top: 0, width: 2, height: 680, background: '#555' }} />
      <div style={{ position: 'absolute', left: 0, top: 678, width: 650, height: 2, background: '#555' }} />
    </div>
  );
}
